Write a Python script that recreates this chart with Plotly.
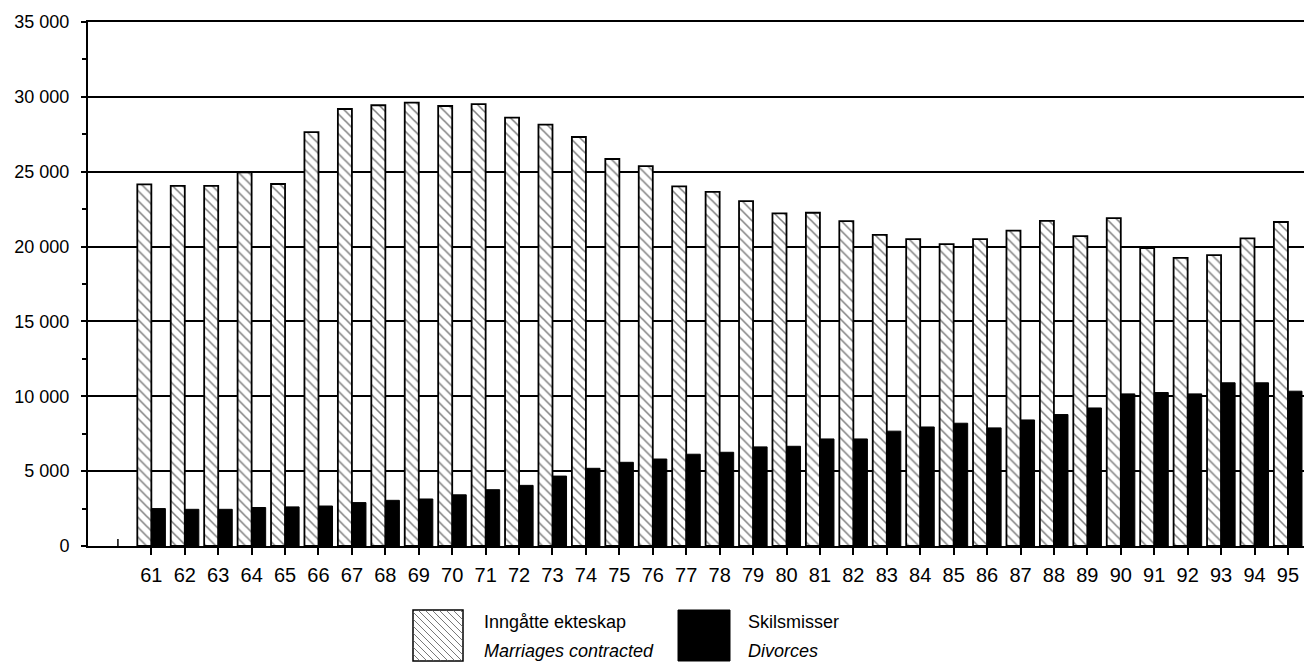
import plotly.graph_objects as go

# ---------------- data ----------------
years = list(range(61, 96))
year_labels = [str(y) for y in years]
marriages = [24150, 24060, 24060, 24950, 24180, 27650, 29190, 29440, 29610, 29390,
             29520, 28610, 28140, 27320, 25850, 25380, 24020, 23660, 23040, 22220,
             22260, 21700, 20780, 20500, 20170, 20500, 21060, 21720, 20700, 21900,
             19900, 19250, 19430, 20550, 21640]
divorces = [2500, 2450, 2450, 2570, 2610, 2670, 2900, 3050, 3140, 3420,
            3760, 4050, 4670, 5190, 5590, 5810, 6130, 6260, 6620, 6660,
            7150, 7150, 7670, 7950, 8200, 7890, 8420, 8780, 9220, 10160,
            10250, 10160, 10900, 10900, 10340]
y_tickvals = [0, 5000, 10000, 15000, 20000, 25000, 30000, 35000]
y_ticktext = ["0", "5 000", "10 000", "15 000", "20 000", "25 000", "30 000", "35 000"]
series_names = ["Inngåtte ekteskap", "Skilsmisser"]
series_names_en = ["Marriages contracted", "Divorces"]

# ---------------- layout geometry ----------------
W, H = 1312, 663
OFF = 8  # page body margin offset
# target plot area in page pixels: x 88..1312, y 22..546
L = 88 - OFF
T = 22 - OFF
R = 8
B = H - (546 - OFF)
PW, PH = W - L - R, H - T - B
FONT = "Liberation Sans, Arial, Helvetica, sans-serif"


def px_x(px):
    return (px - OFF - L) / PW


def px_y(py):
    return (H - B - (py - OFF)) / PH


fig = go.Figure()
fig.add_trace(go.Bar(
    x=years, y=marriages, name=series_names[0],
    marker=dict(color="white", line=dict(color="black", width=1.8),
                pattern=dict(shape="\\", fgcolor="black", bgcolor="white",
                             size=7, solidity=0.22)),
))
fig.add_trace(go.Bar(
    x=years, y=divorces, name=series_names[1],
    marker=dict(color="black", line=dict(color="black", width=1)),
))

shapes = []
# upward tick at the empty year 60
shapes.append(dict(type="line", xref="x", x0=60, x1=60, yref="y", ysizemode="pixel",
                   yanchor=0, y0=0, y1=7, line=dict(color="black", width=1.5)))

# legend swatches
sx0, sx1, sy0, sy1 = 413, 463, 610, 661
shapes.append(dict(type="rect", xref="paper", yref="paper",
                   x0=px_x(sx0), x1=px_x(sx1), y0=px_y(sy1), y1=px_y(sy0),
                   fillcolor="white", line=dict(color="black", width=1.5), layer="above"))
segs = []
size = sx1 - sx0
hgt = sy1 - sy0
step = 7
c = -hgt + step
while c < size:
    t0 = max(0, -c)
    t1 = min(hgt, size - c)
    if t1 > t0:
        xa, ya = sx0 + c + t0, sy0 + t0
        xb, yb = sx0 + c + t1, sy0 + t1
        segs.append(f"M{px_x(xa):.5f},{px_y(ya):.5f}L{px_x(xb):.5f},{px_y(yb):.5f}")
    c += step
shapes.append(dict(type="path", xref="paper", yref="paper", path="".join(segs),
                   line=dict(color="#555555", width=0.8), layer="above"))

dx0, dx1 = 678, 730
shapes.append(dict(type="rect", xref="paper", yref="paper",
                   x0=px_x(dx0), x1=px_x(dx1), y0=px_y(sy1), y1=px_y(sy0),
                   fillcolor="black", line=dict(color="black", width=1), layer="above"))

annotations = []
for tx, i in ((482, 0), (746, 1)):
    annotations.append(dict(xref="paper", yref="paper", x=px_x(tx), y=px_y(622),
                            text=series_names[i], showarrow=False, xanchor="left",
                            yanchor="middle", font=dict(family=FONT, size=18, color="black")))
    annotations.append(dict(xref="paper", yref="paper", x=px_x(tx), y=px_y(H),
                            text=f"<i>{series_names_en[i]}</i>", showarrow=False,
                            xanchor="left", yanchor="bottom",
                            font=dict(family=FONT, size=18, color="black")))

fig.update_layout(
    width=W, height=H,
    margin=dict(l=L, r=R, t=T, b=B, pad=0, autoexpand=False),
    paper_bgcolor="white", plot_bgcolor="white",
    barmode="group", bargap=0.16, bargroupgap=0,
    showlegend=False,
    font=dict(family=FONT, size=18, color="black"),
    shapes=shapes, annotations=annotations,
)
fig.update_xaxes(
    range=[59.105, 95.72], tickmode="array", tickvals=years, ticktext=year_labels,
    ticks="outside", ticklen=7, tickwidth=1.5, tickcolor="black",
    showline=True, linecolor="black", linewidth=2, mirror=True,
    showgrid=False, zeroline=False, automargin=False,
    ticklabelstandoff=3, tickfont=dict(family=FONT, size=20, color="black"),
)
fig.update_yaxes(
    range=[0, 35000], tickmode="array", tickvals=y_tickvals, ticktext=y_ticktext,
    ticks="outside", ticklen=5, tickwidth=1.5, tickcolor="black",
    showline=True, linecolor="black", linewidth=2,
    showgrid=True, gridcolor="black", gridwidth=1.5, zeroline=False,
    automargin=False,
    minor=dict(tickvals=[2500, 7500, 12500, 17500, 22500, 27500, 32500],
               ticks="outside", ticklen=4, tickcolor="black", tickwidth=1.5, showgrid=False),
    ticklabelstandoff=8, tickfont=dict(family=FONT, size=18, color="black"),
)

fig.write_html("out.html")
